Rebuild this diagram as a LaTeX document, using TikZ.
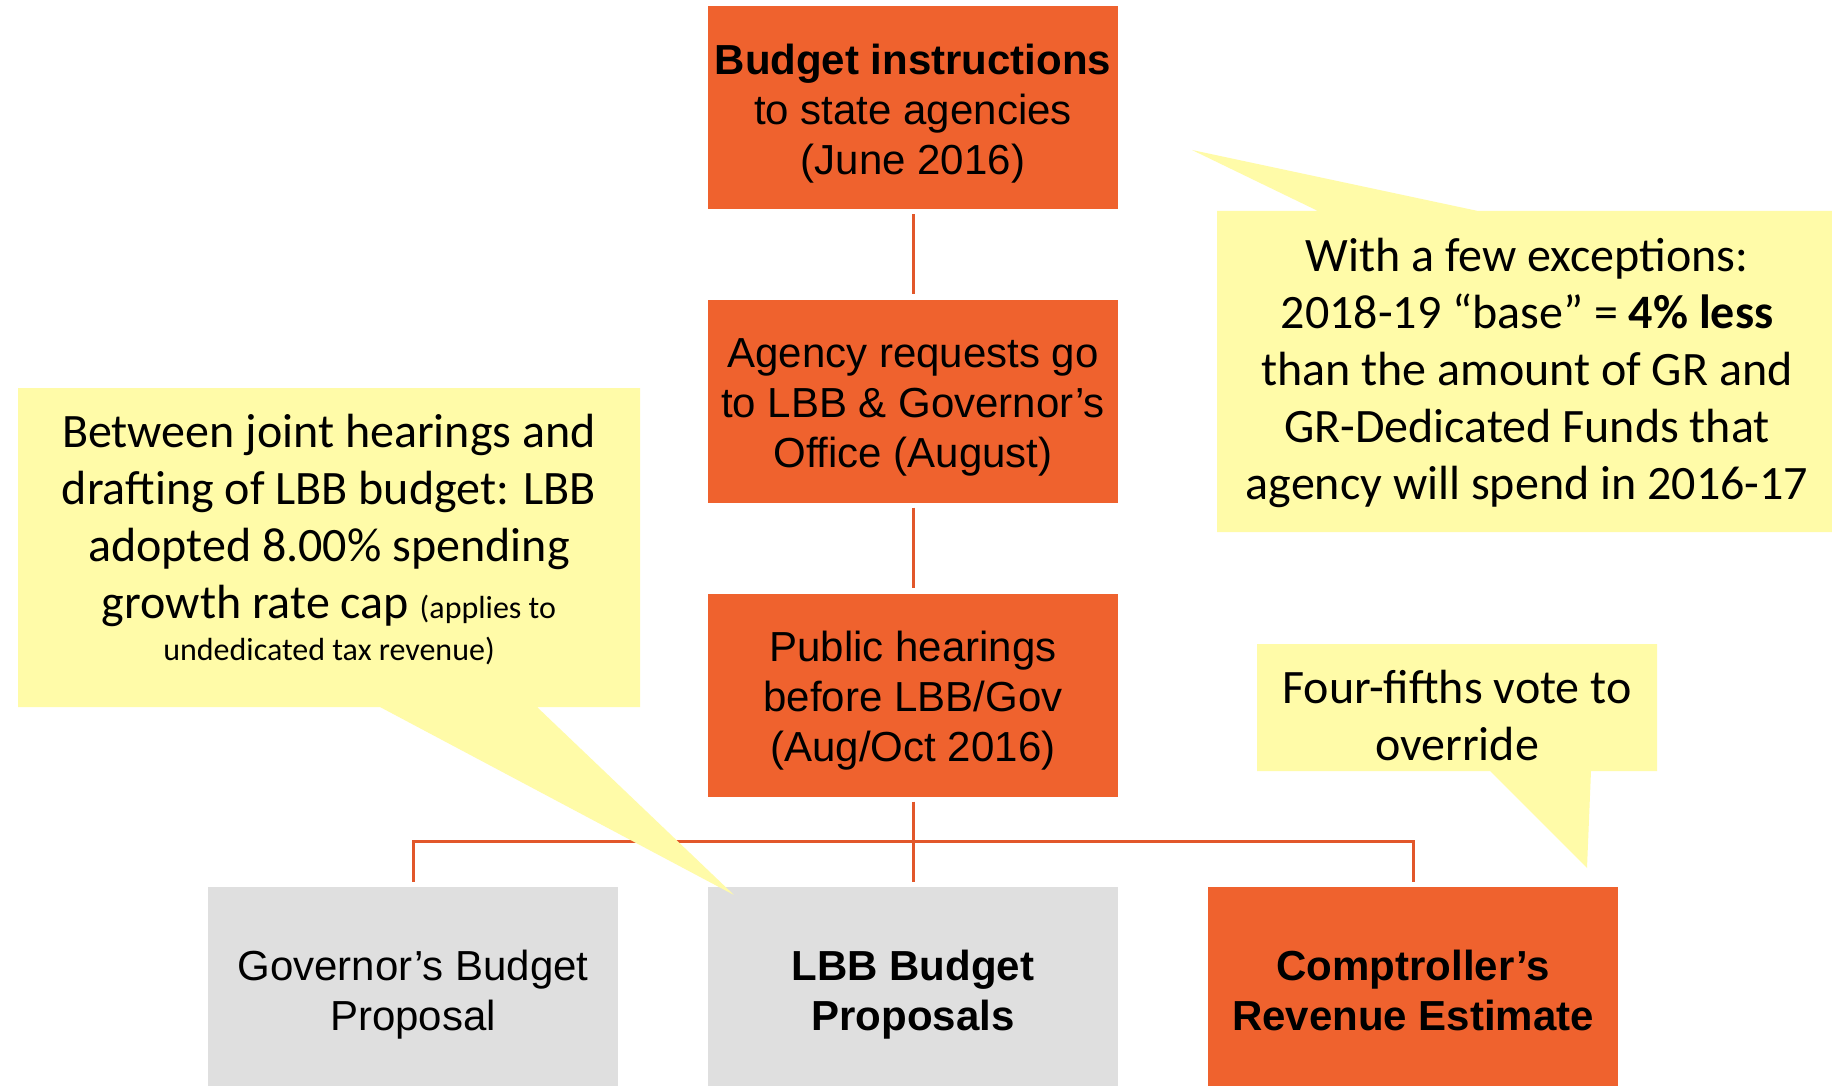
\documentclass[tikz,border=0pt]{standalone}
\usepackage{fontspec}
\setmainfont{Liberation Sans}
\newfontfamily\calfont{Carlito}
\definecolor{orng}{HTML}{EF622E}
\definecolor{lineor}{HTML}{E2572A}
\definecolor{greybox}{HTML}{DFDFDF}
\definecolor{callout}{HTML}{FFFBA8}
\newcommand{\topstrut}{\rule{0pt}{42pt}}
\newcommand{\botstrut}{\rule[-9pt]{0pt}{9pt}}
\tikzset{
 box/.style={minimum width=410pt, minimum height=203pt, inner sep=0pt, align=center, font=\fontsize{42}{50}\selectfont, text=black},
 obox/.style={box, fill=orng},
 gbox/.style={box, fill=greybox},
 conn/.style={draw=lineor, line width=3pt, shorten <=5pt, shorten >=5pt},
 callbg/.style={fill=callout},
 calltext/.style={align=center, font=\calfont\fontsize{48}{57}\selectfont, inner sep=0pt, text=black},
}
\begin{document}
\begin{tikzpicture}[x=1pt,y=-1pt]
\path[use as bounding box, clip] (0,0) rectangle (1832,1086);
\fill[white] (0,0) rectangle (1832,1086);
% boxes
\node[obox] (b1) at (913,107.5) {\topstrut\textbf{Budget instructions}\\to state agencies\\(June 2016)};
\node[obox] (b2) at (913,401) {\topstrut Agency requests go\\to LBB \& Governor’s\\Office (August)};
\node[obox] (b3) at (913,695) {\topstrut Public hearings\\before LBB/Gov\\(Aug/Oct 2016)};
\node[gbox] (gov) at (413,988.5) {\topstrut Governor’s Budget\\Proposal};
\node[gbox] (lbb) at (913,988.5) {\topstrut\textbf{LBB Budget}\\\textbf{Proposals}};
\node[obox] (comp) at (1413,988.5) {\topstrut\textbf{Comptroller’s}\\\textbf{Revenue Estimate}\botstrut};
% connectors
\coordinate (bus) at (913,841);
\draw[conn] (b1) -- (b2);
\draw[conn] (b2) -- (b3);
\draw[conn] (b3) -- (lbb);
\draw[conn] (gov.north) |- (bus) -| (comp.north);
% callouts
\fill[callbg] (1217,211) -- (1318,211) -- (1192,150) -- (1478,211) -- (1832,211) -- (1832,532) -- (1217,532) -- cycle;
\node[calltext] (t1) at (1527,372.5) {With a few exceptions:\\2018-19 “base” = \textbf{4\% less}\\than the amount of GR and\\GR-Dedicated Funds that\\agency will spend in 2016-17};
\fill[callbg] (18,388) -- (640,388) -- (640,707) -- (537,707) -- (734,895) -- (380,707) -- (18,707) -- cycle;
\node[calltext] (t2) at (329,540) {Between joint hearings and\\drafting of LBB budget: LBB\\adopted 8.00\% spending\\growth rate cap {\fontsize{32}{38}\selectfont(applies to}\\[-15pt]{\fontsize{32}{38}\selectfont undedicated tax revenue)}};
\fill[callbg] (1257,644) -- (1657,644) -- (1657,771) -- (1591,771) -- (1587,868) -- (1490,771) -- (1257,771) -- cycle;
\node[calltext] (t3) at (1457,715) {Four-fifths vote to\\override};
\end{tikzpicture}
\end{document}
